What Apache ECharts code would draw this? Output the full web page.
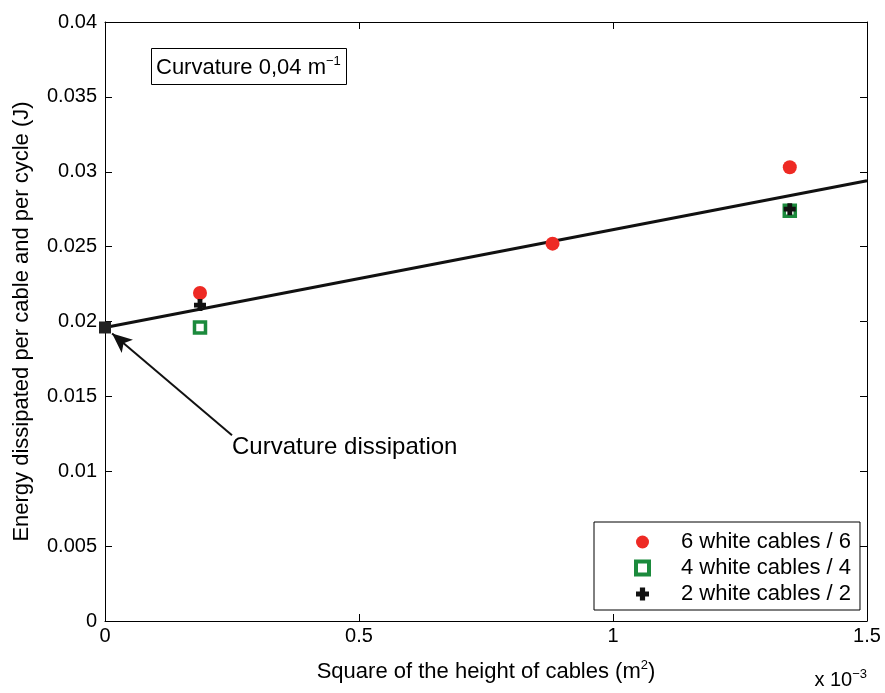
<!DOCTYPE html>
<html>
<head>
<meta charset="utf-8">
<script src="https://cdn.jsdelivr.net/npm/echarts@6/dist/echarts.min.js"></script>
<style>
  html, body { margin: 0; padding: 0; background: #fff; }
  #chart { width: 885px; height: 693px; }
</style>
</head>
<body>
<div id="chart"></div>
<script>
// values (x in units of 1e-3 m^2)
var sixCables = [[0.187, 0.0219], [0.881, 0.0252], [1.348, 0.0303]];
var fourCables = [[0.187, 0.0196], [1.348, 0.0274]];
var twoCables = [[0.187, 0.0211], [1.348, 0.0275]];
var curvaturePoint = [[0, 0.0196]];
var fitLine = [[0, 0.0196], [1.5, 0.0294]];
var arrowFrom = [0.25, 0.0124];
var arrowTo = [0.014, 0.0192];
var labelAt = [0.25, 0.0116];

var font = 'Liberation Sans, Arial, sans-serif';
var plusPath = 'path://M3,0h4v3h3v4h-3v3h-4v-3h-3v-4h3z';
var supStyle = { fontSize: 13, verticalAlign: 'top', padding: [0, 0, 12, 0], color: '#000', fontFamily: font };

var chart = echarts.init(document.getElementById('chart'));

function axisBase(show) {
    return {
        axisLine: { show: true, onZero: false, lineStyle: { color: '#000', width: 1 } },
        axisTick: { show: true, inside: true, length: 7, lineStyle: { color: '#000' } },
        axisLabel: { show: show, color: '#000', fontSize: 20, fontFamily: font },
        splitLine: { show: false }
    };
}

var xBottom = axisBase(true);
xBottom.type = 'value'; xBottom.min = 0; xBottom.max = 1.5; xBottom.interval = 0.5;
xBottom.position = 'bottom';
xBottom.axisLabel.margin = 5;
xBottom.name = 'Square of the height of cables (m{sup|2})';
xBottom.nameLocation = 'middle';
xBottom.nameGap = 38;
xBottom.nameTextStyle = {
    color: '#000', fontSize: 22, fontFamily: font,
    rich: { sup: supStyle }
};

var xTop = axisBase(false);
xTop.type = 'value'; xTop.min = 0; xTop.max = 1.5; xTop.interval = 0.5; xTop.position = 'top';

var yLeft = axisBase(true);
yLeft.type = 'value'; yLeft.min = 0; yLeft.max = 0.04; yLeft.interval = 0.005; yLeft.position = 'left';
yLeft.axisLabel.margin = 8;
yLeft.name = 'Energy dissipated per cable and per cycle (J)';
yLeft.nameLocation = 'middle';
yLeft.nameGap = 72;
yLeft.nameTextStyle = { color: '#000', fontSize: 22, fontFamily: font };

var yRight = axisBase(false);
yRight.type = 'value'; yRight.min = 0; yRight.max = 0.04; yRight.interval = 0.005; yRight.position = 'right';

var option = {
    animation: false,
    backgroundColor: '#fff',
    grid: { left: 105, right: 18, top: 22, bottom: 72 },
    xAxis: [xBottom, xTop],
    yAxis: [yLeft, yRight],
    title: {
        text: 'Curvature 0,04 m{sup|−1}',
        left: 151, top: 48,
        padding: [7, 6, 6, 5],
        borderColor: '#000', borderWidth: 1,
        textStyle: {
            fontSize: 22, fontWeight: 'normal', color: '#000', fontFamily: font,
            rich: { sup: supStyle }
        }
    },
    legend: {
        orient: 'vertical',
        left: 594, top: 522,
        padding: [9, 9, 5, 40],
        itemGap: 4,
        itemWidth: 13, itemHeight: 13,
        borderColor: '#000', borderWidth: 1,
        backgroundColor: '#fff',
        textStyle: { fontSize: 22, color: '#000', fontFamily: font, padding: [0, 0, 0, 27] },
        data: [
            '6 white cables / 6',
            { name: '4 white cables / 4', itemStyle: { borderWidth: 4 } },
            '2 white cables / 2'
        ]
    },
    graphic: [{
        type: 'text',
        right: 18, bottom: 3,
        style: {
            text: 'x 10{sup|−3}',
            fontSize: 20, fill: '#000', fontFamily: font,
            rich: { sup: { fontSize: 13, verticalAlign: 'top', padding: [0, 0, 12, 0], fill: '#000', fontFamily: font } }
        }
    }],
    series: [{
        type: 'line',
        data: fitLine,
        symbol: 'none',
        lineStyle: { color: '#111', width: 3 },
        z: 2,
        markLine: {
            silent: true,
            symbol: ['none', 'arrow'],
            symbolSize: [13, 20],
            label: { show: false },
            lineStyle: { color: '#111', width: 2, type: 'solid' },
            data: [[{ coord: arrowFrom }, { coord: arrowTo }]]
        }
    }, {
        type: 'scatter',
        data: curvaturePoint,
        symbol: 'rect',
        symbolSize: 12,
        itemStyle: { color: '#222', opacity: 1 },
        z: 4
    }, {
        name: '6 white cables / 6',
        type: 'scatter',
        data: sixCables,
        symbol: 'circle',
        symbolSize: 14,
        itemStyle: { color: '#ee2a24', opacity: 1 },
        z: 3
    }, {
        name: '4 white cables / 4',
        type: 'scatter',
        data: fourCables,
        symbol: 'rect',
        symbolSize: 11,
        itemStyle: { color: '#fff', borderColor: '#1b8a3c', borderWidth: 3.5, opacity: 1 },
        z: 3
    }, {
        name: '2 white cables / 2',
        type: 'scatter',
        data: twoCables,
        symbol: plusPath,
        symbolSize: 12,
        itemStyle: { color: '#111', opacity: 1 },
        z: 5
    }, {
        type: 'scatter',
        data: [labelAt],
        symbolSize: 0,
        silent: true,
        itemStyle: { opacity: 1 },
        label: {
            show: true, position: 'right', distance: 0,
            formatter: 'Curvature dissipation',
            fontSize: 24, color: '#000', fontFamily: font
        }
    }]
};

chart.setOption(option);
</script>
</body>
</html>
